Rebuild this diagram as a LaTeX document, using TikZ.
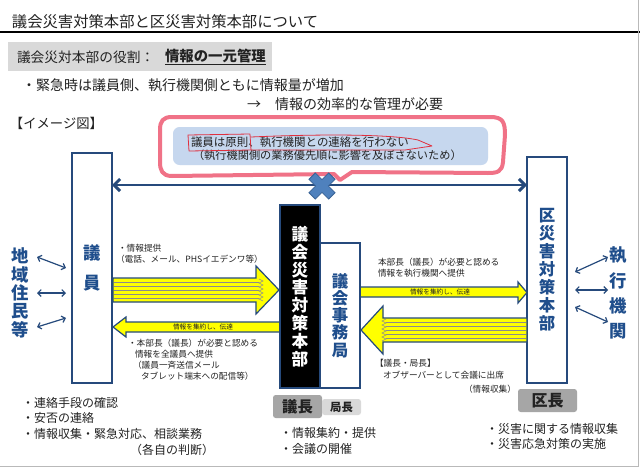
\documentclass[tikz,border=0pt]{standalone}
\usepackage{fontspec}
\setmainfont{Noto Sans CJK JP}
\usetikzlibrary{arrows.meta}
\definecolor{dblue}{HTML}{264A7C}
\definecolor{tblue}{HTML}{1F4E8C}
\definecolor{calloutfill}{HTML}{C6D7EE}
\definecolor{redline}{HTML}{EE5A73}
\definecolor{scribred}{HTML}{E0303F}
\definecolor{xfill}{HTML}{4F81BD}
\definecolor{xline}{HTML}{3A6496}
\definecolor{grayA}{HTML}{D9D9D9}
\definecolor{grayB}{HTML}{A6A6A6}
\definecolor{yel}{HTML}{FFFF00}
\definecolor{txt}{HTML}{222222}
\newcommand\myfs[2]{\fontsize{#1}{#2}\selectfont}
\begin{document}
\begin{tikzpicture}[x=0.75pt,y=-0.75pt,
  every node/.style={inner sep=0pt, outer sep=0pt, text=txt},
  vbox/.style={draw=dblue, line width=1.5pt, fill=white, align=center},
  vtext/.style={align=center, text=tblue, font=\bfseries},
  yarrow/.style={draw=dblue, fill=yel, line width=0.9pt, line join=miter},
  stripe/.style={black!45, line width=0.35pt},
  note/.style={anchor=west, font=\myfs{6.5}{8}},
  bul/.style={anchor=west, font=\myfs{9}{11}},
  dbl/.style={dblue, line width=0.9pt, {Straight Barb[length=2.5pt,width=5pt]}-{Straight Barb[length=2.5pt,width=5pt]}},
  tag/.style={rounded corners=2pt, font=\bfseries}]
\useasboundingbox (0,0) rectangle (640,468);
\fill[white] (0,0) rectangle (640,468);

% title and rule
\node[anchor=west, font=\myfs{11.5}{14}] (title) at (12,22) {議会災害対策本部と区災害対策本部について};
\coordinate (rl) at (0,32); \coordinate (rr) at (640,32);
\draw[line width=0.9pt] (rl) -- (rr);

% role box
\node[fill=grayA, anchor=north west, minimum width=198pt, minimum height=21.75pt] (rolebox) at (8,42) {};
\node[anchor=west, font=\myfs{10.3}{12}] (role) at (17,57) {議会災対本部の役割：};
\node[anchor=west, font=\bfseries\myfs{10.8}{12}] (role2) at (165,57) {\underline{情報の一元管理}};

\node[anchor=west, font=\myfs{10.5}{12}] (l1) at (22,85) {・緊急時は議員側、執行機関側ともに情報量が増加};
\node[anchor=west, font=\myfs{10.5}{12}] (l2) at (247,104) {→\hspace{1em}情報の効率的な管理が必要};
\node[anchor=west, font=\myfs{10}{12}] (img) at (10,123) {【イメージ図】};

% callout
\fill[calloutfill, rounded corners=5pt] (173,127) rectangle (488,165);
\draw[redline, line width=3pt, line join=round, opacity=0.85]
  (172,117) -- (490,117) .. controls (503,117) and (505,122) .. (505,135)
  -- (503,162) .. controls (502,172) and (497,173) .. (488,173)
  -- (352,172) -- (340,180) -- (334,174) -- (172,176)
  .. controls (162,176) and (160,170) .. (160,162) -- (160,130)
  .. controls (160,121) and (163,117) .. (172,117) -- cycle;
\node[anchor=west, font=\myfs{8.6}{10}] (c1) at (191,142) {議員は原則、執行機関との連絡を行わない};
\node[anchor=west, font=\myfs{8.4}{10}] (c2) at (193,155) {（執行機関側の業務優先順に影響を及ぼさないため）};
\draw[scribred, line width=0.6pt, line join=round]
  (188,135) -- (250,134) -- (251,150) -- (189,151) -- cycle;
\draw[scribred, line width=0.6pt, line join=round]
  (251,137) .. controls (320,134) and (390,134) .. (418,140) -- (432,146) -- (405,150) -- (251,150);

% main boxes
\node[vbox, minimum width=30pt, minimum height=172.5pt, font=\bfseries\myfs{13}{22.5}, text=tblue] (giin) at (92,268) {議\\員};
\node[vbox, minimum width=30pt, minimum height=169.5pt, font=\bfseries\myfs{12.3}{13.5}, text=tblue] (ku) at (547,270) {区\\災\\害\\対\\策\\本\\部};

% double arrow with cross
\draw[dblue, line width=2.2pt, {Straight Barb[length=4.5pt,width=9pt]}-{Straight Barb[length=4.5pt,width=9pt]}]
  (giin.east |- 0,185) -- (ku.west |- 0,185);
\begin{scope}[shift={(322,186)}, rotate=45]
\draw[xline, fill=xfill, line width=0.6pt] (4.5,14) -- (4.5,4.5) -- (14,4.5) -- (14,-4.5) -- (4.5,-4.5) -- (4.5,-14) -- (-4.5,-14) -- (-4.5,-4.5) -- (-14,-4.5) -- (-14,4.5) -- (-4.5,4.5) -- (-4.5,14) -- cycle;
\end{scope}

% yellow arrows
\draw[yarrow] (113,278) -- (256,278) -- (256,266) -- (279,290) -- (256,314) -- (256,302) -- (113,302) -- cycle;
\foreach \yy in {282,286,290,294,298} \draw[stripe] (114,\yy) -- (259,\yy);
\draw[stripe] (259,279) -- (263,281) -- (259,283) -- (263,285) -- (259,287) -- (263,289) -- (259,291) -- (263,293) -- (259,295) -- (263,297) -- (259,299) -- (263,301);

\draw[yarrow] (280,322) -- (126,322) -- (126,317) -- (113,327) -- (126,337) -- (126,332) -- (280,332) -- cycle;
\node[font=\myfs{5}{6}] (lab1) at (203,327) {情報を集約し、伝達};

\draw[yarrow] (360,287) -- (518,287) -- (518,282) -- (527,292.5) -- (518,303) -- (518,297) -- (360,297) -- cycle;
\node[font=\myfs{5}{6}] (lab2) at (440,292) {情報を集約し、伝達};

\draw[yarrow] (527,318) -- (383,318) -- (383,306) -- (361,330) -- (383,354) -- (383,342) -- (527,342) -- cycle;
\foreach \yy in {322,326,330,334,338} \draw[stripe] (386,\yy) -- (526,\yy);
\draw[stripe] (386,319) -- (382,321) -- (386,323) -- (382,325) -- (386,327) -- (382,329) -- (386,331) -- (382,333) -- (386,335) -- (382,337) -- (386,339) -- (382,341);

% centre boxes
\node[vbox, fill=black, minimum width=30pt, minimum height=137.25pt, font=\bfseries\myfs{12.5}{13.4}] (honbu) at (300,296.5) {\textcolor{white}{議}\\\textcolor{white}{会}\\\textcolor{white}{災}\\\textcolor{white}{害}\\\textcolor{white}{対}\\\textcolor{white}{策}\\\textcolor{white}{本}\\\textcolor{white}{部}};
\node[vbox, minimum width=30pt, minimum height=108.75pt, font=\bfseries\myfs{12.3}{12.9}, text=tblue] (jimu) at (340,315.5) {議\\会\\事\\務\\局};

% side labels
\node[vtext, font=\bfseries\myfs{13}{13.8}, text=tblue] (jumin) at (20,293) {地\\域\\住\\民\\等};
\node[vtext, font=\bfseries\myfs{13}{18.8}, text=tblue] (shikko) at (618,293) {執\\行\\機\\関};

\coordinate (a1) at (37,257); \coordinate (b1) at (66,268);
\coordinate (a2) at (37,293); \coordinate (b2) at (66,293);
\coordinate (a3) at (37,327); \coordinate (b3) at (66,318);
\draw[dbl] (a1) -- (b1); \draw[dbl] (a2) -- (b2); \draw[dbl] (a3) -- (b3);
\coordinate (c1a) at (575,272); \coordinate (c1b) at (608,257);
\coordinate (c2a) at (575,290); \coordinate (c2b) at (608,290);
\coordinate (c3a) at (575,307); \coordinate (c3b) at (608,322);
\draw[dbl] (c1a) -- (c1b); \draw[dbl] (c2a) -- (c2b); \draw[dbl] (c3a) -- (c3b);

% annotations
\node[note] (n1) at (118,248) {・情報提供};
\node[note] (n2) at (116,259) {（電話、メール、PHSイエデンワ等）};
\node[note] (n3) at (128,343) {・本部長（議長）が必要と認める};
\node[note] (n4) at (135,354) {情報を全議員へ提供};
\node[note] (n5) at (133,365) {（議員一斉送信メール};
\node[note] (n6) at (141,376) {タブレット端末への配信等）};
\node[note] (n7) at (378,262) {本部長（議長）が必要と認める};
\node[note] (n8) at (378,273) {情報を執行機関へ提供};
\node[note] (n9) at (375,363) {【議長・局長】};
\node[note] (n10) at (383,375) {オブザーバーとして会議に出席};
\node[note, anchor=east] (n11) at (516,389) {（情報収集）};

% tags
\node[tag, fill=grayB, minimum width=36.75pt, minimum height=17.25pt, font=\bfseries\myfs{11.5}{12}] (gicho) at (297.5,406.5) {議長};
\node[tag, fill=grayA, minimum width=29.25pt, minimum height=12pt, font=\bfseries\myfs{8.5}{10}] (kyoku) at (341.5,407) {局長};
\node[tag, fill=grayB, minimum width=44.25pt, minimum height=17.25pt, font=\bfseries\myfs{12}{12}] (kucho) at (547.5,400.5) {区長};

% bottom bullets
\node[bul] (b1t) at (22,403) {・連絡手段の確認};
\node[bul] (b2t) at (22,418) {・安否の連絡};
\node[bul] (b3t) at (22,434) {・情報収集・緊急対応、相談業務};
\node[bul, anchor=east] (b4t) at (214,450) {（各自の判断）};
\node[bul] (b5t) at (280,433) {・情報集約・提供};
\node[bul] (b6t) at (280,449) {・会議の開催};
\node[bul] (b7t) at (486,429) {・災害に関する情報収集};
\node[bul] (b8t) at (486,444) {・災害応急対策の実施};

% frame
\coordinate (f1) at (638,0); \coordinate (f2) at (638,466); \coordinate (f3) at (0,466);
\draw[gray!55, line width=0.75pt] (f1) -- (f2) -- (f3);
\end{tikzpicture}
\end{document}
